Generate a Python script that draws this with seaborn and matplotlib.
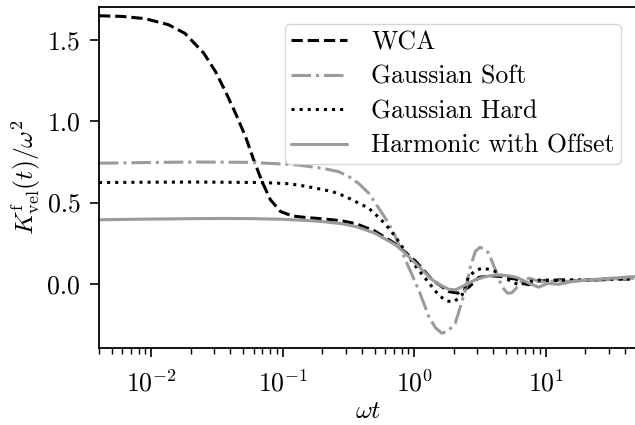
import matplotlib
matplotlib.use("Agg")
import matplotlib.pyplot as plt
import seaborn as sns

# values (x = omega*t, y = K / omega^2)
wca_x = [0.004, 0.006, 0.009, 0.0135, 0.018, 0.025, 0.0307, 0.0366, 0.0436, 0.052,
         0.060, 0.0695, 0.0805, 0.096, 0.1175, 0.15, 0.2, 0.28, 0.36, 0.5, 0.72,
         1.02, 1.37, 1.83, 2.15, 2.6, 3.1, 3.8, 4.6, 5.3, 5.9, 6.6, 7.4, 8.5, 10,
         13, 17, 22, 30, 40, 47]
wca_y = [1.648, 1.644, 1.63, 1.593, 1.54, 1.419, 1.306, 1.183, 1.05, 0.906,
         0.763, 0.629, 0.517, 0.445, 0.418, 0.408, 0.4, 0.388, 0.37, 0.325, 0.246,
         0.14, 0.025, -0.047, -0.057, -0.02, 0.04, 0.05, 0.045, 0.035, 0.03, 0.005,
         -0.005, 0.015, 0.02, 0.025, 0.02, 0.025, 0.03, 0.03, 0.032]

soft_x = [0.004, 0.008, 0.015, 0.023, 0.055, 0.111, 0.132, 0.199, 0.266, 0.317,
          0.38, 0.45, 0.568, 0.64, 0.718, 0.856, 1.08, 1.29, 1.45, 1.62, 1.8, 2.05,
          2.24, 2.45, 2.67, 2.91, 3.15, 3.4, 3.68, 4.14, 4.64, 5.1, 5.5, 5.9, 6.6,
          7.5, 8.5, 10, 12, 15, 19, 25, 33, 47]
soft_y = [0.742, 0.745, 0.748, 0.749, 0.747, 0.735, 0.73, 0.711, 0.69, 0.66,
          0.615, 0.558, 0.435, 0.37, 0.291, 0.148, -0.037, -0.201, -0.27, -0.303,
          -0.29, -0.242, -0.14, -0.037, 0.106, 0.199, 0.225, 0.215, 0.189, 0.086,
          -0.017, -0.057, -0.055, -0.03, 0.02, 0.035, 0.02, 0.01, 0.02, 0.015,
          0.025, 0.02, 0.03, 0.035]

hard_x = [0.004, 0.01, 0.023, 0.0695, 0.111, 0.15, 0.2, 0.237, 0.30, 0.378, 0.45,
          0.55, 0.62, 0.718, 0.96, 1.21, 1.53, 1.75, 2.0, 2.31, 2.59, 2.9, 3.27,
          3.9, 4.5, 5.2, 6.2, 7.0, 8, 9.5, 12, 16, 22, 30, 47]
hard_y = [0.623, 0.625, 0.626, 0.623, 0.616, 0.60, 0.58, 0.568, 0.537, 0.496,
          0.466, 0.40, 0.355, 0.291, 0.137, 0.035, -0.068, -0.105, -0.11, -0.068,
          0.045, 0.08, 0.097, 0.086, 0.06, 0.025, -0.006, 0.004, 0.02, 0.025, 0.02,
          0.025, 0.025, 0.03, 0.03]

harm_x = [0.004, 0.007, 0.012, 0.02, 0.035, 0.06, 0.1, 0.15, 0.2, 0.28, 0.36, 0.5,
          0.72, 0.85, 1.02, 1.2, 1.37, 1.6, 1.83, 2.05, 2.4, 2.9, 3.5, 4.2, 5.2,
          6.0, 6.6, 7.4, 8.8, 10.5, 12.5, 15.8, 21, 32, 47]
harm_y = [0.394, 0.397, 0.399, 0.401, 0.402, 0.401, 0.397, 0.39, 0.383, 0.37,
          0.352, 0.312, 0.24, 0.19, 0.127, 0.07, 0.025, -0.01, -0.033, -0.037,
          -0.01, 0.025, 0.045, 0.055, 0.05, 0.04, 0.025, 0.005, -0.02, 0.004,
          -0.003, 0.014, 0.025, 0.035, 0.045]

gray = "#9b9b9b"
series = [
    ("WCA", wca_x, wca_y, "black", "--"),
    ("Gaussian Soft", soft_x, soft_y, gray, "-."),
    ("Gaussian Hard", hard_x, hard_y, "black", ":"),
    ("Harmonic with Offset", harm_x, harm_y, gray, "-"),
]

sns.set_style("ticks")
plt.rcParams.update({
    "font.family": ["cmr10"],
    "mathtext.fontset": "cm",
    "axes.formatter.use_mathtext": True,
    "axes.unicode_minus": False,
    "font.size": 18.5,
    "axes.edgecolor": "black",
    "axes.linewidth": 1.3,
    "xtick.color": "black",
    "ytick.color": "black",
    "xtick.major.size": 6.5,
    "ytick.major.size": 6.5,
    "xtick.minor.size": 4.3,
    "xtick.major.width": 1.2,
    "ytick.major.width": 1.2,
    "xtick.minor.width": 1.0,
    "xtick.major.pad": 9,
    "xtick.minor.pad": 9,
    "ytick.major.pad": 7,
    "text.color": "black",
    "axes.labelcolor": "black",
})

fig = plt.figure(figsize=(6.35, 4.25), dpi=100)
ax = fig.add_axes([99 / 635, 77 / 425, 538.7 / 635, 340.7 / 425])

for name, xs, ys, color, ls in series:
    sns.lineplot(x=xs, y=ys, ax=ax, color=color, linestyle=ls, linewidth=2.2,
                 label=name, estimator=None)

ax.set_xscale("log")
ax.set_xlim(0.004, 50)
ax.set_ylim(-0.394, 1.70)
ax.set_yticks([0.0, 0.5, 1.0, 1.5])
ax.set_yticklabels(["0.0", "0.5", "1.0", "1.5"])
ax.tick_params(labelsize=18.5)
ax.set_xlabel(r"$\omega t$", fontsize=18.5, labelpad=2)
ax.set_ylabel(r"$K^{\mathrm{f}}_{\mathrm{vel}}(t)/\omega^2$", fontsize=18.5, labelpad=3)

ax.legend(loc="upper right", fontsize=18.5, labelspacing=0.42, handlelength=2.15,
          borderpad=0.25, borderaxespad=0.65, handletextpad=0.95,
          frameon=True, fancybox=True)

fig.savefig("out.png", dpi=100)
